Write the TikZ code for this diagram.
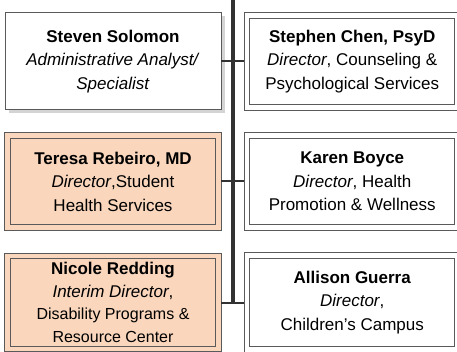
\documentclass[tikz,border=0pt]{standalone}
\usepackage{fontspec}
\setmainfont{Liberation Sans}
\usetikzlibrary{shadows}
\definecolor{peach}{RGB}{249,214,188}
\definecolor{boxline}{RGB}{90,90,90}
\definecolor{conn}{RGB}{50,50,50}
\definecolor{shade}{RGB}{212,212,212}
\tikzset{
  base/.style={rectangle, align=center, inner sep=0pt, outer sep=0pt,
    font=\fontsize{17}{23.5}\selectfont, text=black,
    drop shadow={shadow xshift=3.5pt, shadow yshift=-3.5pt, fill=shade, opacity=1}},
  singlebox/.style={base, draw=boxline, line width=1pt, fill=white,
    minimum width=216pt, minimum height=97pt},
  dblbox/.style={base, draw=boxline, line width=0.9pt, double distance=4.6pt,
    double=#1, fill=#1},
  connector/.style={draw=conn, line width=2pt},
  trunk/.style={draw=conn, line width=3.2pt},
}
\begin{document}
\begin{tikzpicture}[x=1pt, y=-1pt]
\useasboundingbox (0,0) rectangle (457,352);
\clip (0,0) rectangle (457,352);
\node[singlebox] (steven) at (113,61.5)
  {\textbf{Steven Solomon}\\ \textit{Administrative Analyst/}\\ \textit{Specialist}};
\node[dblbox=white, minimum width=210.5pt, minimum height=92pt] (stephen) at (352.25,61.5)
  {\textbf{Stephen Chen, PsyD}\\ \textit{Director}, Counseling \&\\ Psychological Services};
\node[dblbox=peach, minimum width=211pt, minimum height=92pt] (teresa) at (113,181.5)
  {\textbf{Teresa Rebeiro, MD}\\ \textit{Director},Student\\ Health Services};
\node[dblbox=white, minimum width=210.5pt, minimum height=92pt] (karen) at (352.25,181.5)
  {\textbf{Karen Boyce}\\ \textit{Director}, Health\\ Promotion \& Wellness};
\node[dblbox=peach, minimum width=211pt, minimum height=93pt,
      font=\fontsize{17}{22.5}\selectfont] (nicole) at (113,302.5)
  {\textbf{Nicole Redding}\\ \textit{Interim Director},\\ \fontsize{16}{22.5}\selectfont Disability Programs \&\\ \fontsize{16}{22.5}\selectfont Resource Center};
\node[dblbox=white, minimum width=210.5pt, minimum height=94pt] (allison) at (352.25,302.5)
  {\textbf{Allison Guerra}\\ \textit{Director},\\ Children’s Campus};
\coordinate (top) at (233,0);
\draw[trunk] (top) -- (top |- nicole.east);
\draw[connector, shorten >=2.6pt] (steven.east) -- (stephen.west);
\draw[connector, shorten <=2.6pt, shorten >=2.6pt] (teresa.east) -- (karen.west);
\draw[connector, shorten <=2.6pt, shorten >=2.6pt] (nicole.east) -- (allison.west |- nicole.east);
\end{tikzpicture}
\end{document}
